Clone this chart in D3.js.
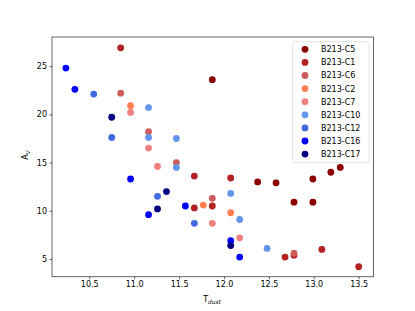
<!DOCTYPE html>
<html><head><meta charset="utf-8">
<script src="https://cdn.jsdelivr.net/npm/d3@7"></script>
<style>body{margin:0;background:#fff}svg{display:block}text{font-family:"DejaVu Sans",sans-serif;fill:#000}</style>
</head><body><svg id="c" width="415" height="311"></svg>
<script>
const seriesNames = ["B213-C5","B213-C1","B213-C6","B213-C2","B213-C7","B213-C10","B213-C12","B213-C16","B213-C17"];
const seriesColors = ["#8b0000","#b22222","#cd5c5c","#ff7f50","#f08080","#6495ed","#4169e1","#0000ff","#000080"];
const C5  = [[11.87,23.6],[12.375,13.0],[12.58,12.9],[12.78,10.9],[12.99,10.9],[12.99,13.3],[13.19,14.0],[13.295,14.5]];
const C1  = [[10.85,26.9],[11.67,13.6],[12.075,13.4],[11.67,10.3],[11.87,10.5],[12.68,5.2],[12.78,5.4],[13.09,6.0],[13.5,4.2]];
const C6  = [[10.85,22.2],[11.16,18.2],[11.47,15.0],[11.87,11.3],[12.78,5.6]];
const C2  = [[10.96,20.9],[11.77,10.6],[12.075,9.8]];
const C7  = [[10.96,20.2],[11.16,16.5],[11.26,14.6],[11.87,8.7],[12.175,7.2]];
const C10 = [[11.16,20.7],[11.16,17.6],[11.47,17.5],[11.47,14.5],[12.075,11.8],[12.175,9.1],[12.48,6.1]];
const C12 = [[10.55,22.1],[10.75,17.6],[11.26,11.5],[11.67,8.7]];
const C16 = [[10.24,24.8],[10.34,22.6],[10.96,13.3],[11.16,9.6],[11.57,10.5],[12.075,6.9],[12.175,5.2]];
const C17 = [[10.75,19.7],[11.36,12.0],[11.26,10.2],[12.075,6.4]];
const seriesData = [C5,C1,C6,C2,C7,C10,C12,C16,C17];
const xTicks = [10.5,11.0,11.5,12.0,12.5,13.0,13.5];
const yTicks = [5,10,15,20,25];

const L=52, R=373.5, T=37, B=276.8;
const svg=d3.select("#c");
const x=d3.scaleLinear().domain([10.085,13.665]).range([L,R]);
const y=d3.scaleLinear().domain([3.16,28.02]).range([B,T]);

seriesData.forEach((d,i)=>{
  svg.append("g").selectAll("circle").data(d).join("circle")
    .attr("cx",p=>x(p[0])).attr("cy",p=>y(p[1])).attr("r",3.4)
    .attr("fill",seriesColors[i]);
});

const xa=svg.append("g").attr("transform",`translate(0,${B})`)
  .call(d3.axisBottom(x).tickValues(xTicks).tickFormat(d3.format(".1f")).tickSize(2.5).tickPadding(2.5));
const ya=svg.append("g").attr("transform",`translate(${L},0)`)
  .call(d3.axisLeft(y).tickValues(yTicks).tickFormat(d3.format("d")).tickSize(2.5).tickPadding(2.5));
[xa,ya].forEach(a=>{a.select(".domain").remove();a.selectAll("text").attr("font-size",8).attr("font-family","DejaVu Sans").attr("fill","#000");a.selectAll("line").attr("stroke","#000").attr("stroke-width",0.6);});

svg.append("rect").attr("x",L).attr("y",T).attr("width",R-L).attr("height",B-T)
  .attr("fill","none").attr("stroke","#000").attr("stroke-width",0.6);

// axis labels
const xl=svg.append("text").attr("x",212).attr("y",302).attr("text-anchor","middle").attr("font-size",8);
xl.append("tspan").text("T");
xl.append("tspan").attr("font-size",5.8).attr("font-style","italic").attr("dy",1.8).text("dust");
const yl=svg.append("text").attr("transform","translate(28,155) rotate(-90)").attr("text-anchor","middle").attr("font-size",8);
yl.append("tspan").text("A");
yl.append("tspan").attr("font-size",5.8).attr("font-style","italic").attr("dy",1.8).text("V");

// legend
const lg=svg.append("g");
lg.append("rect").attr("x",292.7).attr("y",41.7).attr("width",76.5).attr("height",121).attr("rx",2)
  .attr("fill","#fff").attr("fill-opacity",0.8).attr("stroke","#cccccc").attr("stroke-width",0.6);
seriesNames.forEach((n,i)=>{
  const yy=49.3+i*13.1;
  lg.append("circle").attr("cx",305).attr("cy",yy).attr("r",3.4).attr("fill",seriesColors[i]);
  lg.append("text").attr("x",321).attr("y",yy+2.9).attr("font-size",8).text(n);
});
</script></body></html>
